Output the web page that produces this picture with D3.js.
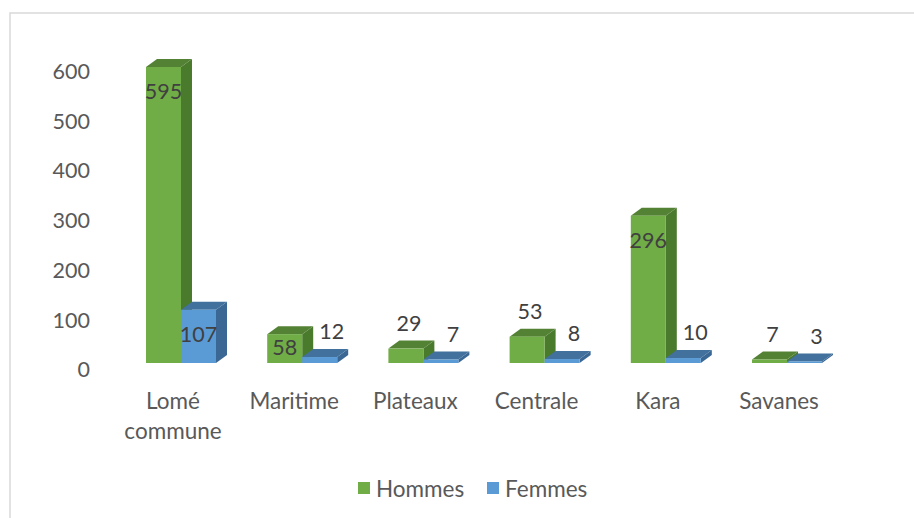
<!DOCTYPE html>
<html><head><meta charset="utf-8">
<script src="https://cdn.jsdelivr.net/npm/d3@7"></script>
<style>html,body{margin:0;padding:0;background:#fff;}svg{display:block;}</style>
</head><body>
<svg id="c" width="914" height="518"></svg>
<script>
const categories = [["Lomé","commune"],["Maritime"],["Plateaux"],["Centrale"],["Kara"],["Savanes"]];
const seriesNames = ["Hommes","Femmes"];
const hommes = [595, 58, 29, 53, 296, 7];
const femmes = [107, 12, 7, 8, 10, 3];
const yTicks = [0,100,200,300,400,500,600];

const svg = d3.select("#c");
const FONT = "Lato, 'Open Sans', sans-serif";
const FS = 21.5, FS_TXT = 22.5;
const catKeys = categories.map(c => c.join(" "));
const colors = [
  {front:"#70AD47", side:"#4A7A2C", top:"#548235"},
  {front:"#5B9BD5", side:"#3A6794", top:"#41719C"}
];
const DX = 11, DY = 8;
const AX = -8, AY = 7; // floor front-edge offset for axis labels

// border
svg.append("rect").attr("x",10).attr("y",13).attr("width",1000).attr("height",1000)
  .attr("fill","none").attr("stroke","#d9d9d9").attr("stroke-width",1.5);

const y = d3.scaleLinear().domain([0,600]).range([363,64.5]);
const x0 = d3.scaleBand().domain(catKeys).range([120.4,847.6]).padding(0);
const barW = 35;

// y axis labels
const yAxis = d3.axisLeft(y).tickValues(yTicks).tickSize(0).tickPadding(0);
const gy = svg.append("g").attr("transform",`translate(90,${AY})`).call(yAxis);
gy.select(".domain").remove();
gy.selectAll("text").attr("font-family",FONT).attr("font-size",FS).attr("fill","#595959");

// bars
const data = categories.map((c,i)=>({key:catKeys[i], lines:c, vals:[hommes[i],femmes[i]]}));
data.forEach(d => {
  const center = x0(d.key) + x0.bandwidth()/2;
  const x1 = d3.scaleBand().domain(seriesNames).range([center-barW, center+barW]);
  const g = svg.append("g");
  d.vals.forEach((v,si) => {
    const xa = x1(seriesNames[si]), xb = xa + x1.bandwidth();
    const yt = y(v), yb = y(0);
    const c = colors[si];
    g.append("polygon").attr("points",[[xb,yt],[xb+DX,yt-DY],[xb+DX,yb-DY],[xb,yb]].join(" ")).attr("fill",c.side);
    g.append("polygon").attr("points",[[xa,yt],[xa+DX,yt-DY],[xb+DX,yt-DY],[xb,yt]].join(" ")).attr("fill",c.top);
    g.append("rect").attr("x",xa).attr("y",yt).attr("width",xb-xa).attr("height",yb-yt).attr("fill",c.front);
  });
  d.vals.forEach((v,si) => {
    const xa = x1(seriesNames[si]), xb = xa + x1.bandwidth();
    const yt = y(v), h = y(0)-yt;
    const cx = (xa+xb)/2;
    let lx, ly;
    if (h > 28) { lx = cx; ly = yt + Math.min(24, h*0.45); }
    else { lx = cx + (si===0 ? 3 : 12); ly = yt - DY - 18; }
    svg.append("text").attr("x",lx).attr("y",ly).attr("text-anchor","middle")
      .attr("dominant-baseline","central").attr("font-family",FONT).attr("font-size",FS)
      .attr("fill","#404040").text(v);
  });
  const t = svg.append("text").attr("text-anchor","middle").attr("font-family",FONT)
    .attr("font-size",FS_TXT).attr("fill","#595959");
  d.lines.forEach((ln,li) => {
    t.append("tspan").attr("x",center+AX).attr("y",400+li*30).attr("dominant-baseline","central").text(ln);
  });
});

// legend
const leg = svg.append("g");
const legItems = [{n:"Hommes",x:358},{n:"Femmes",x:487}];
legItems.forEach((it,i) => {
  leg.append("rect").attr("x",it.x).attr("y",482).attr("width",12).attr("height",12).attr("fill",colors[i].front);
  leg.append("text").attr("x",it.x+18).attr("y",488).attr("dominant-baseline","central")
    .attr("font-family",FONT).attr("font-size",FS_TXT).attr("fill","#595959").text(it.n);
});
</script>
</body></html>
